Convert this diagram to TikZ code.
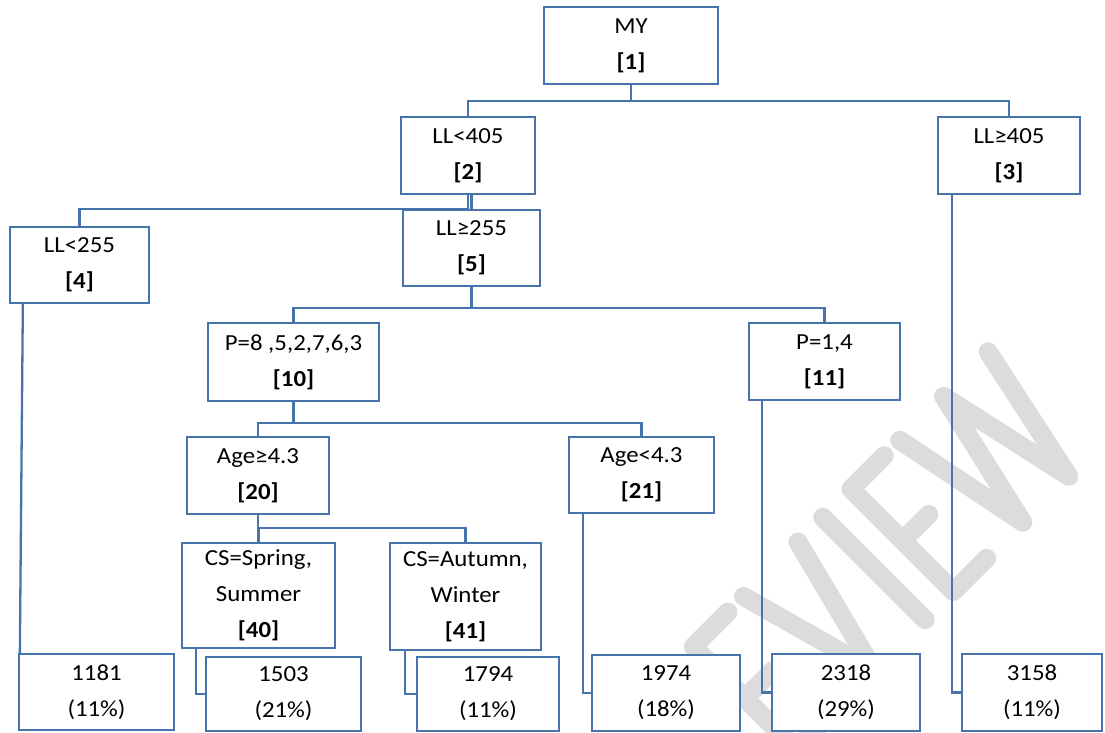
\documentclass[tikz,border=0pt]{standalone}
\usepackage{fontspec}
\setmainfont{Carlito}[FakeStretch=1.08]
\usepackage{xcolor}
\definecolor{treeblue}{RGB}{72,116,172}
\definecolor{markgray}{RGB}{220,220,220}

\begin{document}
\begin{tikzpicture}[x=1pt, y=-1pt,
	tbox/.style={draw=treeblue, line width=2.3pt, fill=white, align=center, inner sep=0pt,
		font=\fontsize{23}{36}\selectfont, minimum height=77pt},
	link/.style={treeblue, line width=2.3pt},
	wmark/.style={markgray, line width=19pt, line cap=round, line join=round}]
	\useasboundingbox (0,0) rectangle (1105,733);
	\clip (0,0) rectangle (1105,733);
	\begin{scope}[shift={(772.5,772.5)}, x={(0.707pt,0.707pt)}, y={(-0.707pt,0.707pt)}]
		\draw[wmark] (82,145) -- (33,145) -- (33,0) -- (82,0) (33,72) -- (72,72);
		\draw[wmark] (104,145) -- (144,0) -- (181,145);
		\draw[wmark] (216,0) -- (216,145);
		\draw[wmark] (303,145) -- (256,145) -- (256,0) -- (303,0) (256,72) -- (293,72);
		\draw[wmark] (325,145) -- (354,0) -- (387,145) -- (419,0) -- (450,145);
	\end{scope}
	\node[tbox, minimum width=174pt] (n1) at (631,45.5) {MY\\\textbf{[1]}};
	\node[tbox, minimum width=134pt] (n2) at (468,155.5) {LL<405\\\textbf{[2]}};
	\node[tbox, minimum width=142pt] (n3) at (1009,155.5) {LL≥405\\\textbf{[3]}};
	\node[tbox, minimum width=139pt, minimum height=76pt] (n4) at (79.5,265) {LL<255\\\textbf{[4]}};
	\node[tbox, minimum width=137pt, minimum height=76pt] (n5) at (471.5,248) {LL≥255\\\textbf{[5]}};
	\node[tbox, minimum width=171pt, minimum height=78pt] (n10) at (293.5,362) {P=8 ,5,2,7,6,3\\\textbf{[10]}};
	\node[tbox, minimum width=151pt] (n11) at (824.5,361.5) {P=1,4\\\textbf{[11]}};
	\node[tbox, minimum width=142pt] (n20) at (258,475.5) {Age≥4.3\\\textbf{[20]}};
	\node[tbox, minimum width=145pt, minimum height=76pt] (n21) at (641.5,475) {Age<4.3\\\textbf{[21]}};
	\node[tbox, minimum width=153pt, minimum height=105pt] (n40) at (258.5,595.5) {CS=Spring,\\Summer\\\textbf{[40]}};
	\node[tbox, minimum width=151pt, minimum height=107pt] (n41) at (465.5,596.5) {CS=Autumn,\\Winter\\\textbf{[41]}};
	\node[tbox, minimum width=155pt, minimum height=76pt] (l1) at (96.5,692) {1181\\(11\%)};
	\node[tbox, minimum width=155pt, minimum height=74pt] (l2) at (283.5,694) {1503\\(21\%)};
	\node[tbox, minimum width=142pt, minimum height=74pt] (l3) at (488,694) {1794\\(11\%)};
	\node[tbox, minimum width=148pt, minimum height=76pt] (l4) at (666,693) {1974\\(18\%)};
	\node[tbox, minimum width=148pt, minimum height=77pt] (l5) at (846,692.5) {2318\\(29\%)};
	\node[tbox, minimum width=140pt, minimum height=77pt] (l6) at (1032,692.5) {3158\\(11\%)};
	\draw[link] (n1.south) -- ++(0,16) -| (n2.north);
	\draw[link] (n1.south) -- ++(0,16) -| (n3.north);
	\draw[link] (n2.south) -- (n2.south |- n5.north) -| (n4.north);
	\draw[link] (n5.north) -- (n5.north |- n2.south);
	\draw[link] (n5.south) -- ++(0,21) -| (n10.north);
	\draw[link] (n5.south) -- ++(0,21) -| (n11.north);
	\draw[link] (n10.south) -- ++(0,21) -| (n20.north);
	\draw[link] (n10.south) -- ++(0,21) -| (n21.north);
	\draw[link] (n20.south) -- ++(0,13) -| (n40.north);
	\draw[link] (n20.south) -- ++(0,13) -| (n41.north);
	\draw[link] ([xshift=14pt]n4.south west) -- ([xshift=2pt]l1.north west);
	\draw[link] ([xshift=15pt]n40.south west) |- (l2.west);
	\draw[link] ([xshift=16pt]n41.south west) |- (l3.west);
	\draw[link] ([xshift=15pt]n21.south west) |- (l4.west);
	\draw[link] ([xshift=14pt]n11.south west) |- (l5.west);
	\draw[link] ([xshift=15pt]n3.south west) |- (l6.west);
\end{tikzpicture}
\end{document}
